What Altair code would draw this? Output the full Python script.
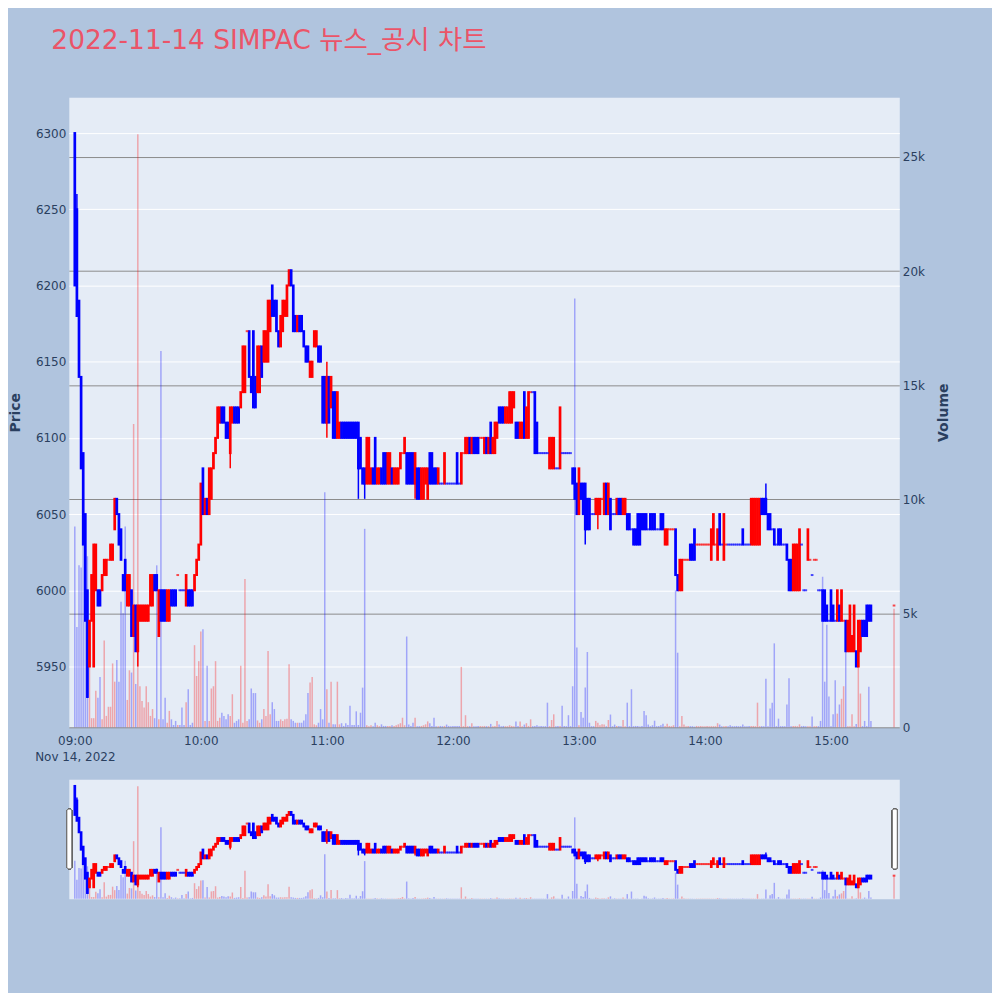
import altair as alt
import pandas as pd
from datetime import datetime, timedelta

# ---------------- data ----------------
minutes = list(range(0, 380)) + [390]

open_close = [
    (6300,6200),(6250,6180),(6190,6140),(6140,6080),(6090,6030),(6050,5980),(6000,5930),(5950,5980),(5980,6010),(5950,6030),
    (6000,6030),(6000,5990),(6000,5990),(6000,6010),(6010,6020),(6010,6020),(6020,6020),(6020,6030),(6020,6030),(6040,6060),
    (6060,6050),(6050,6030),(6040,6020),(6010,6000),(6020,6000),(5990,6010),(5990,6010),(6000,5970),(5970,5990),(5990,5960),
    (5960,5990),(5980,5990),(5980,5990),(5980,5990),(5980,5990),(5980,5990),(5990,6010),(5990,6010),(6010,6000),(6010,6000),
    (5970,6000),(6000,5980),(6000,5980),(6000,5980),(5980,6000),(5980,6000),(6000,5990),(6000,5990),(6000,5990),(6010,6010),
    (6000,6000),(6000,6000),(6000,6000),(5990,6010),(6000,5990),(6000,5990),(6000,5990),(6000,6010),(6010,6020),(6020,6030),
    (6030,6070),(6080,6050),(6050,6060),(6060,6050),(6050,6080),(6060,6080),(6080,6090),(6090,6100),(6100,6120),(6110,6120),
    (6120,6110),(6120,6110),(6110,6100),(6110,6100),(6090,6120),(6110,6120),(6120,6110),(6120,6110),(6120,6110),(6120,6130),
    (6130,6160),(6130,6160),(6170,6170),(6170,6140),(6140,6130),(6170,6120),(6140,6120),(6130,6160),(6130,6160),(6160,6140),
    (6150,6170),(6150,6170),(6150,6190),(6170,6190),(6200,6180),(6190,6180),(6190,6170),(6170,6160),(6160,6180),(6170,6190),
    (6180,6190),(6180,6200),(6200,6210),(6210,6200),(6200,6170),(6180,6170),(6170,6180),(6180,6170),(6180,6170),(6170,6160),
    (6160,6150),(6160,6150),(6140,6150),(6140,6150),(6160,6170),(6160,6170),(6160,6150),(6160,6150),(6140,6110),(6140,6110),
    (6110,6140),(6140,6110),(6120,6140),(6130,6100),(6130,6100),(6100,6130),(6100,6110),(6110,6100),(6110,6100),(6110,6100),
    (6110,6100),(6110,6100),(6110,6100),(6110,6100),(6110,6100),(6110,6080),(6100,6080),(6080,6070),(6080,6070),(6070,6100),
    (6070,6100),(6070,6080),(6080,6070),(6100,6070),(6070,6080),(6070,6080),(6080,6070),(6090,6070),(6090,6070),(6070,6090),
    (6070,6090),(6080,6070),(6070,6080),(6070,6080),(6070,6080),(6080,6090),(6090,6090),(6090,6100),(6090,6070),(6090,6070),
    (6090,6070),(6090,6070),(6070,6090),(6080,6060),(6080,6060),(6060,6080),(6060,6080),(6070,6080),(6060,6080),(6090,6070),
    (6090,6070),(6080,6070),(6080,6070),(6070,6080),(6070,6070),(6070,6070),(6070,6090),(6070,6070),(6070,6070),(6070,6070),
    (6070,6070),(6070,6070),(6090,6070),(6070,6070),(6070,6090),(6090,6090),(6090,6100),(6090,6100),(6100,6090),(6090,6100),
    (6100,6090),(6100,6090),(6100,6090),(6100,6100),(6100,6100),(6090,6100),(6100,6090),(6090,6100),(6110,6090),(6090,6100),
    (6090,6110),(6100,6110),(6120,6110),(6120,6110),(6120,6110),(6110,6120),(6110,6120),(6110,6130),(6110,6130),(6120,6130),
    (6110,6100),(6110,6100),(6100,6110),(6100,6110),(6130,6100),(6100,6120),(6100,6130),(6130,6130),(6130,6130),(6130,6090),
    (6110,6090),(6090,6090),(6090,6090),(6090,6090),(6090,6090),(6090,6090),(6080,6100),(6080,6100),(6080,6100),(6080,6080),
    (6080,6080),(6080,6120),(6090,6090),(6090,6090),(6090,6090),(6090,6090),(6090,6090),(6080,6070),(6080,6060),(6070,6050),
    (6050,6080),(6070,6060),(6070,6050),(6070,6040),(6060,6040),(6060,6040),(6050,6050),(6050,6050),(6050,6060),(6050,6060),
    (6050,6060),(6060,6060),(6050,6070),(6070,6050),(6050,6070),(6060,6040),(6050,6050),(6050,6050),(6050,6060),(6060,6050),
    (6060,6050),(6050,6060),(6050,6060),(6050,6040),(6050,6040),(6040,6040),(6040,6030),(6040,6030),(6050,6030),(6050,6030),
    (6050,6040),(6050,6040),(6050,6040),(6040,6040),(6050,6040),(6050,6040),(6050,6040),(6040,6040),(6040,6040),(6050,6040),
    (6050,6040),(6030,6040),(6030,6040),(6040,6040),(6040,6040),(6040,6040),(6040,6010),(6010,6000),(6000,6020),(6000,6020),
    (6020,6020),(6020,6020),(6020,6020),(6030,6020),(6030,6020),(6040,6020),(6030,6030),(6030,6030),(6030,6030),(6030,6030),
    (6030,6030),(6030,6030),(6030,6030),(6020,6040),(6030,6050),(6030,6030),(6020,6040),(6050,6030),(6030,6030),(6020,6050),
    (6030,6030),(6030,6030),(6030,6030),(6030,6030),(6030,6030),(6030,6030),(6030,6030),(6030,6030),(6040,6030),(6030,6030),
    (6030,6030),(6030,6030),(6030,6060),(6030,6060),(6030,6060),(6030,6060),(6030,6060),(6060,6050),(6060,6050),(6060,6050),
    (6050,6040),(6050,6040),(6040,6040),(6040,6030),(6030,6030),(6040,6030),(6040,6030),(6030,6030),(6030,6030),(6030,6020),
    (6020,6000),(6020,6000),(6000,6030),(6000,6030),(6000,6030),(6000,6040),(6030,6030),(6000,6000),(6000,6000),(6020,6040),
    (6020,6020),(6010,6010),(6020,6020),(6020,6020),(6000,6000),(6000,6000),(6000,5980),(6000,5980),(5990,5980),(5980,5980),
    (6000,5980),(5990,5980),(5980,5980),(5980,6000),(5990,5980),(5980,6000),(5980,5980),(5980,5960),(5960,5980),(5960,5990),
    (5960,5970),(5960,5990),(5960,5950),(5950,5980),(5960,5980),(5980,5970),(5980,5970),(5990,5970),(5990,5980),(5990,5980),
    (5990,5990),
]

# volume per minute, in thousands of shares
volume_k = [
    8.8,4.4,7.1,7.0,10.4,6.0,7.5,4.0,0.4,0.4,
    1.6,1.3,2.2,0.35,3.8,0.5,0.9,0.9,2.8,2.0,
    2.95,2.0,5.5,5.0,8.8,1.2,2.5,2.4,13.3,1.9,
    26.0,1.8,1.15,0.87,1.8,1.1,0.5,0.8,0.4,7.1,
    0.35,16.5,0.35,1.3,0.2,0.72,0.35,0.1,0.28,0.1,
    0.1,0.87,0.1,1.1,1.67,0.1,0.2,3.6,2.25,2.9,
    4.2,4.3,0.28,2.7,0.28,1.7,1.8,2.9,0.28,0.42,
    0.64,0.5,0.35,0.57,0.5,1.45,0.2,0.28,0.35,2.7,
    0.2,6.5,0.28,0.35,1.7,1.5,1.5,0.3,0.2,0.35,
    0.8,0.5,3.35,0.57,1.1,0.8,0.28,0.28,0.35,0.28,
    0.35,0.38,2.76,0.35,0.28,0.2,0.2,0.2,0.2,0.3,
    0.57,1.5,1.96,2.2,0.13,0.09,0.2,0.8,0.35,10.3,
    1.67,0.2,2.0,0.13,0.13,2.0,0.13,0.18,0.06,0.18,
    0.1,0.94,0.1,0.1,0.7,0.1,0.64,1.74,8.7,0.09,
    0.05,0.09,0.05,0.2,0.09,0.05,0.13,0.06,0.06,0.06,
    0.06,0.09,0.06,0.09,0.13,0.18,0.42,0.09,3.98,0.12,
    0.06,0.2,0.42,0.05,0.05,0.06,0.09,0.13,0.26,0.18,
    0.06,0.42,0.05,0.05,0.06,0.05,0.06,0.12,0.06,0.05,
    0.06,0.06,0.06,0.06,2.65,0.05,0.53,0.05,0.05,0.18,
    0.05,0.05,0.06,0.06,0.05,0.06,0.05,0.05,0.15,0.05,
    0.06,0.28,0.12,0.05,0.06,0.05,0.05,0.09,0.06,0.05,
    0.26,0.06,0.26,0.05,0.12,0.18,0.06,0.35,0.05,0.06,
    0.09,0.05,0.06,0.05,0.05,1.08,0.05,0.32,0.57,0.05,
    0.06,0.06,0.94,0.06,0.05,0.53,0.05,1.8,18.8,3.5,
    0.09,0.67,0.42,1.74,3.3,0.2,0.05,0.05,0.28,0.2,
    0.09,0.13,0.12,0.05,0.32,0.56,0.05,0.12,0.06,0.06,
    0.05,0.32,0.05,1.08,0.05,1.67,0.05,0.06,0.06,0.03,
    0.06,0.72,0.53,0.12,0.05,0.09,0.29,0.05,0.06,0.09,
    0.16,0.06,0.16,0.06,0.05,0.09,6.0,3.27,0.05,0.5,
    0.12,0.05,0.06,0.05,0.05,0.03,0.06,0.05,0.06,0.05,
    0.05,0.06,0.05,0.05,0.05,0.05,0.18,0.12,0.05,0.05,
    0.06,0.05,0.09,0.05,0.05,0.06,0.05,0.05,0.12,0.05,
    0.05,0.06,0.06,0.06,0.05,1.08,0.05,0.05,0.05,2.13,
    0.05,0.82,1.08,3.68,0.05,0.38,0.05,0.05,0.05,1.0,
    2.15,0.05,0.06,0.06,0.05,0.13,0.05,0.06,0.05,0.05,
    0.05,0.47,0.05,0.05,0.05,0.28,6.6,2.0,4.5,1.35,
    0.05,0.57,2.06,0.6,1.0,1.25,1.8,3.6,0.05,0.05,
    0.57,0.05,0.15,2.84,1.48,0.05,0.28,0.05,1.78,0.28,
    5.2,
]

# candles whose wick reaches past the body: minute -> (high, low)
wicks = {1: (6260, 6180), 6: (6000, 5930), 30: (5990, 5950), 74: (6120, 6080),
         120: (6150, 6100), 135: (6110, 6060), 138: (6080, 6060), 162: (6090, 6060),
         243: (6070, 6030), 249: (6060, 6040), 329: (6070, 6050)}

# flat (open == close) candles drawn in the "increasing" colour
red_doji = [16, 49, 82, 156, 185, 193, 194, 217, 251, 283, 284, 285, 290, 291, 292,
            296, 297, 298, 299, 300, 301, 302, 305, 310, 350, 352, 353, 366, 390]

price_ticks = [5950, 6000, 6050, 6100, 6150, 6200, 6250, 6300]
volume_ticks = [0, 5, 10, 15, 20, 25]

assert len(minutes) == len(open_close) == len(volume_k)

base = datetime(2022, 11, 14, 9, 0)
rows = []
for m, (o, c), v in zip(minutes, open_close, volume_k):
    hi, lo = wicks.get(m, (max(o, c), min(o, c)))
    if c > o:
        d = "up"
    elif c < o:
        d = "down"
    else:
        d = "up" if m in red_doji else "down"
    rows.append(dict(t=(base + timedelta(minutes=m)).strftime("%Y-%m-%dT%H:%M:%S"),
                     o=o, c=c, h=hi, l=lo, v=v, d=d, flat=(o == c)))
df = pd.DataFrame(rows)

# ---------------- chart ----------------
FONT = "DejaVu Sans"
TXT = "#2a3f5f"
xdom = [alt.DateTime(year=2022, month=11, date=14, hours=8, minutes=57, seconds=9),
        alt.DateTime(year=2022, month=11, date=14, hours=15, minutes=32, seconds=30)]
hours = [alt.DateTime(year=2022, month=11, date=14, hours=h) for h in range(9, 16)]
PDOM = [5910.1, 6323.5]
VDOM = [0, 27.62]

color_scale = alt.Scale(domain=["up", "down"], range=["#FF0000", "#0000FF"])


def layers(show_axes, W, H):
    if show_axes:
        xax = alt.Axis(values=hours, grid=False, ticks=False, domain=False, title=None,
                       labelPadding=8, labelFontSize=12, labelColor=TXT, labelFont=FONT,
                       labelLineHeight=16, labelOverlap=False, labelFlush=False,
                       labelExpr="timeFormat(datum.value, '%H:%M') == '09:00' ? ['09:00', 'Nov 14, 2022'] : timeFormat(datum.value, '%H:%M')")
        pax = alt.Axis(orient="left", values=price_ticks, format="d", grid=True, gridColor="white",
                       gridWidth=1, ticks=False, domain=False, labelPadding=3, labelFontSize=12,
                       labelColor=TXT, labelFont=FONT, title="Price", titleX=-53, titleY=H / 2,
                       titleAngle=270, titleAlign="center", titleBaseline="middle", titleFontSize=14,
                       titleFontWeight="bold", titleColor=TXT, titleFont=FONT)
        vax = alt.Axis(orient="right", values=volume_ticks, grid=True, gridColor="#8c8c8c", gridWidth=1,
                       ticks=False, domain=False, labelPadding=3, labelFontSize=12, labelColor=TXT,
                       labelFont=FONT,
                       labelExpr="datum.value == 0 ? '0' : datum.value + 'k'",
                       title="Volume", titleX=44, titleY=H / 2, titleAngle=270,
                       titleAlign="center", titleBaseline="middle", titleFontSize=14,
                       titleFontWeight="bold", titleColor=TXT, titleFont=FONT)
    else:
        xax = None
        pax = None
        vax = None

    X = alt.X("t:T", scale=alt.Scale(domain=xdom, padding=0, nice=False), axis=xax)
    col = alt.Color("d:N", scale=color_scale, legend=None)
    stk = alt.Stroke("d:N", scale=color_scale, legend=None)
    pscale = alt.Scale(domain=PDOM, nice=False, zero=False, padding=0)

    vol = alt.Chart(df).mark_bar(size=1.5, opacity=0.3).encode(
        x=X,
        y=alt.Y("v:Q", scale=alt.Scale(domain=VDOM, nice=False, zero=True, padding=0), axis=vax),
        color=col,
    )
    wick = alt.Chart(df).mark_rule(strokeWidth=1.5).encode(
        x=X,
        y=alt.Y("l:Q", scale=pscale, axis=pax),
        y2="h:Q",
        color=col,
    )
    body = alt.Chart(df).transform_filter("!datum.flat").mark_bar(size=0.7, strokeWidth=2).encode(
        x=X,
        y=alt.Y("o:Q", scale=pscale, axis=pax),
        y2="c:Q",
        color=col,
        stroke=stk,
    )
    flat = alt.Chart(df).transform_filter("datum.flat").mark_tick(size=2.7, thickness=2).encode(
        x=X,
        y=alt.Y("o:Q", scale=pscale, axis=pax),
        color=col,
    )
    price = alt.layer(wick, body, flat)
    return alt.layer(vol, price).resolve_scale(y="independent").properties(width=W, height=H)


main = layers(True, 833, 632)

slider_core = layers(False, 833, 120)
handle_l = alt.Chart(df).mark_rect(fill="white", stroke="#666666", strokeWidth=1,
                                   cornerRadius=2).encode(
    x=alt.value(-2), x2=alt.value(3), y=alt.value(30), y2=alt.value(90))
handle_r = alt.Chart(df).mark_rect(fill="white", stroke="#666666", strokeWidth=1,
                                   cornerRadius=2).encode(
    x=alt.value(826), x2=alt.value(831), y=alt.value(30), y2=alt.value(90))
slider = alt.layer(slider_core, handle_l, handle_r).properties(width=833, height=120)

chart = alt.vconcat(main, slider, spacing=52, bounds="flush").properties(
    title=alt.TitleParams(text="2022-11-14 SIMPAC 뉴스_공시 차트", anchor="start", frame="bounds",
                          fontSize=26.5, fontWeight="normal", color="#EB5468",
                          font="DejaVu Sans, Noto Sans CJK KR", dx=43, offset=42),
    background="#B0C4DE",
    padding={"left": 0, "top": 19, "right": 41, "bottom": 92},
).configure_view(fill="#E5ECF6", stroke="transparent")

chart.save("out.html", embed_options={"renderer": "svg", "actions": False})
